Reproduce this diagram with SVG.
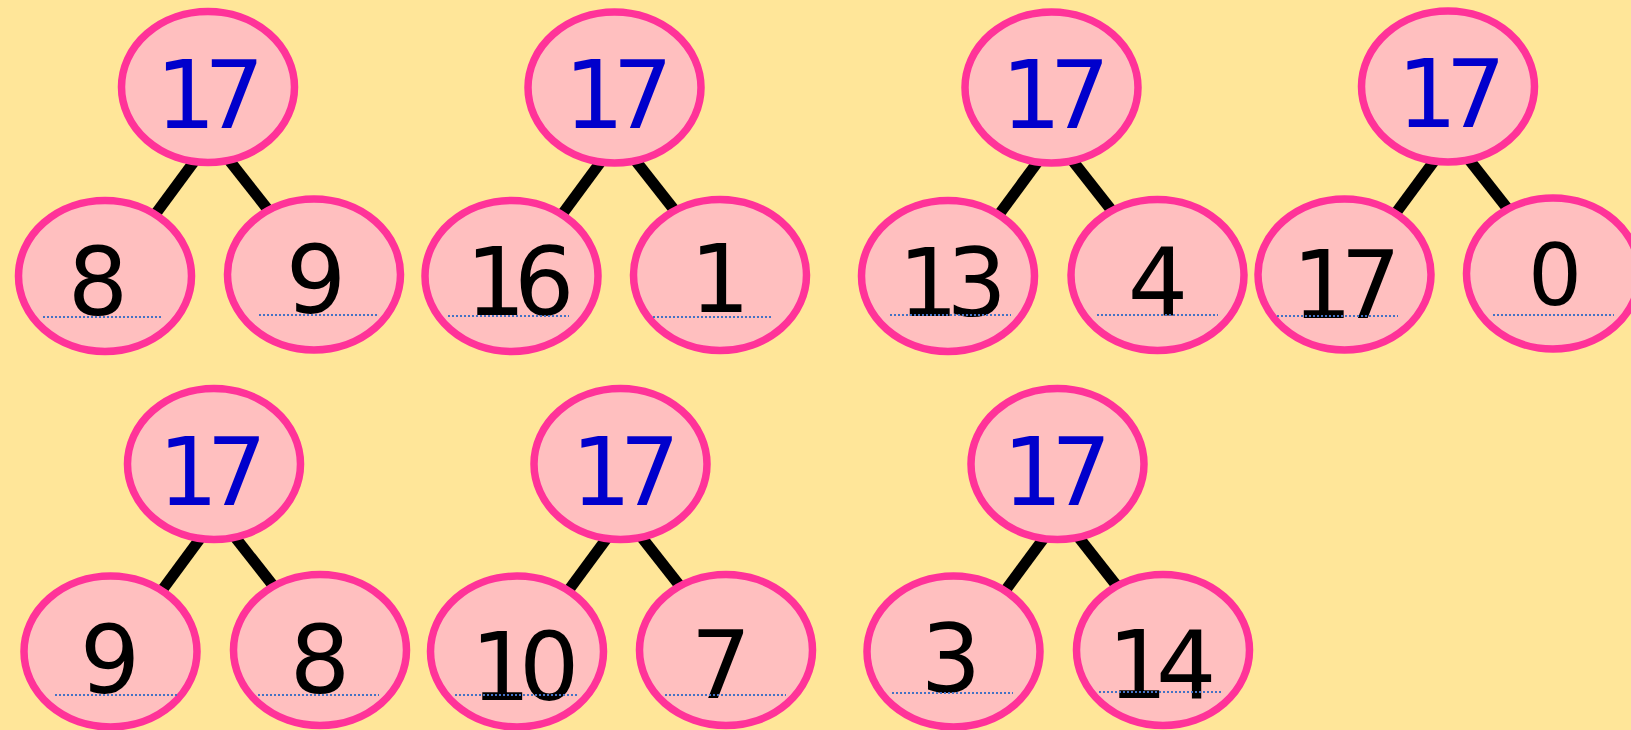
<svg xmlns="http://www.w3.org/2000/svg" width="1631" height="730" viewBox="0 0 1631 730">
<style>
.n{fill:#FFBFBF;stroke:#FF3399;stroke-width:7.5}
.c{stroke:#000;stroke-width:11;stroke-linecap:butt}
.t{font-family:"DejaVu Sans",sans-serif;font-size:95px;text-anchor:middle;fill:#000}
.d{letter-spacing:-12px}
.b{fill:#0000CC}
.u{stroke:#4472C4;stroke-width:2.2;stroke-dasharray:2 2}
</style>
<rect width="1631" height="730" fill="#FFE699"/>
<g id="connectors">
<line class="c" x1="196" y1="159" x2="154" y2="216"/><line class="c" x1="225" y1="155" x2="269" y2="211"/>
<line class="c" x1="602.5" y1="159.5" x2="560.5" y2="216.5"/><line class="c" x1="631.5" y1="155.5" x2="675.5" y2="211.5"/>
<line class="c" x1="1039.5" y1="159.5" x2="997.5" y2="216.5"/><line class="c" x1="1068.5" y1="155.5" x2="1112.5" y2="211.5"/>
<line class="c" x1="1436" y1="158.5" x2="1394" y2="215.5"/><line class="c" x1="1465" y1="154.5" x2="1509" y2="210.5"/>
<line class="c" x1="202" y1="536" x2="160" y2="593"/><line class="c" x1="231" y1="532" x2="275" y2="588"/>
<line class="c" x1="608.5" y1="536" x2="566.5" y2="593"/><line class="c" x1="637.5" y1="532" x2="681.5" y2="588"/>
<line class="c" x1="1045.5" y1="536" x2="1003.5" y2="593"/><line class="c" x1="1074.5" y1="532" x2="1118.5" y2="588"/>
</g>
<g id="t1">
<g id="t1-top"><ellipse class="n" cx="208" cy="87" rx="86.5" ry="75.5"/><text class="t b d" x="204" y="128">17</text></g>
<g id="t1-left"><ellipse class="n" cx="105" cy="276" rx="86.5" ry="75.5"/><text class="t" x="98" y="315">8</text><line class="u" x1="43" y1="317" x2="163" y2="317"/></g>
<g id="t1-right"><ellipse class="n" cx="314" cy="274.5" rx="86.5" ry="75.5"/><text class="t" x="316" y="313">9</text><line class="u" x1="259" y1="315" x2="379" y2="315"/></g>
</g>
<g id="t2">
<g id="t2-top"><ellipse class="n" cx="614.5" cy="87.5" rx="86.5" ry="75.5"/><text class="t b d" x="612.5" y="128">17</text></g>
<g id="t2-left"><ellipse class="n" cx="511.5" cy="276" rx="86.5" ry="75.5"/><text class="t d" x="514" y="315">16</text><line class="u" x1="448" y1="316" x2="569" y2="316"/></g>
<g id="t2-right"><ellipse class="n" cx="720" cy="275" rx="86.5" ry="75.5"/><text class="t" x="720" y="312">1</text><line class="u" x1="653" y1="317" x2="773" y2="317"/></g>
</g>
<g id="t3">
<g id="t3-top"><ellipse class="n" cx="1051.5" cy="87.5" rx="86.5" ry="75.5"/><text class="t b d" x="1049.5" y="128">17</text></g>
<g id="t3-left"><ellipse class="n" cx="948" cy="276" rx="86.5" ry="75.5"/><text class="t d" x="946.5" y="316">13</text><line class="u" x1="890" y1="315" x2="1011" y2="315"/></g>
<g id="t3-right"><ellipse class="n" cx="1157.5" cy="275" rx="86.5" ry="75.5"/><text class="t" x="1158" y="315">4</text><line class="u" x1="1097" y1="315" x2="1218" y2="315"/></g>
</g>
<g id="t4">
<g id="t4-top"><ellipse class="n" cx="1448" cy="86.5" rx="86.5" ry="75.5"/><text class="t b d" x="1445.5" y="127">17</text></g>
<g id="t4-left"><ellipse class="n" cx="1344.5" cy="274.5" rx="86.5" ry="75.5"/><text class="t d" x="1340.5" y="318">17</text><line class="u" x1="1277" y1="316" x2="1398" y2="316"/></g>
<g id="t4-right"><ellipse class="n" cx="1553" cy="273.5" rx="86.5" ry="75.5"/><text class="t" x="1555" y="305" style="font-size:85px">0</text><line class="u" x1="1493" y1="315" x2="1614" y2="315"/></g>
</g>
<g id="t5">
<g id="t5-top"><ellipse class="n" cx="214" cy="464" rx="86.5" ry="75.5"/><text class="t b d" x="206.5" y="505">17</text></g>
<g id="t5-left"><ellipse class="n" cx="110.5" cy="651.5" rx="86.5" ry="75.5"/><text class="t" x="110" y="693">9</text><line class="u" x1="55" y1="695" x2="177" y2="695"/></g>
<g id="t5-right"><ellipse class="n" cx="320" cy="650" rx="86.5" ry="75.5"/><text class="t" x="320" y="693">8</text><line class="u" x1="258" y1="695" x2="379" y2="695"/></g>
</g>
<g id="t6">
<g id="t6-top"><ellipse class="n" cx="620.5" cy="464" rx="86.5" ry="75.5"/><text class="t b d" x="619.5" y="505">17</text></g>
<g id="t6-left"><ellipse class="n" cx="517" cy="651.5" rx="86.5" ry="75.5"/><text class="t d" x="519" y="700">10</text><line class="u" x1="455" y1="695" x2="577" y2="695"/></g>
<g id="t6-right"><ellipse class="n" cx="726" cy="650" rx="86.5" ry="75.5"/><text class="t" x="721" y="698">7</text><line class="u" x1="665" y1="695" x2="786" y2="695"/></g>
</g>
<g id="t7">
<g id="t7-top"><ellipse class="n" cx="1057.5" cy="464" rx="86.5" ry="75.5"/><text class="t b d" x="1051" y="505">17</text></g>
<g id="t7-left"><ellipse class="n" cx="953.5" cy="651.5" rx="86.5" ry="75.5"/><text class="t" x="951" y="692">3</text><line class="u" x1="892" y1="693" x2="1013" y2="693"/></g>
<g id="t7-right"><ellipse class="n" cx="1163" cy="650" rx="86.5" ry="75.5"/><text class="t d" x="1156" y="698">14</text><line class="u" x1="1099" y1="692" x2="1221" y2="692"/></g>
</g>
</svg>
